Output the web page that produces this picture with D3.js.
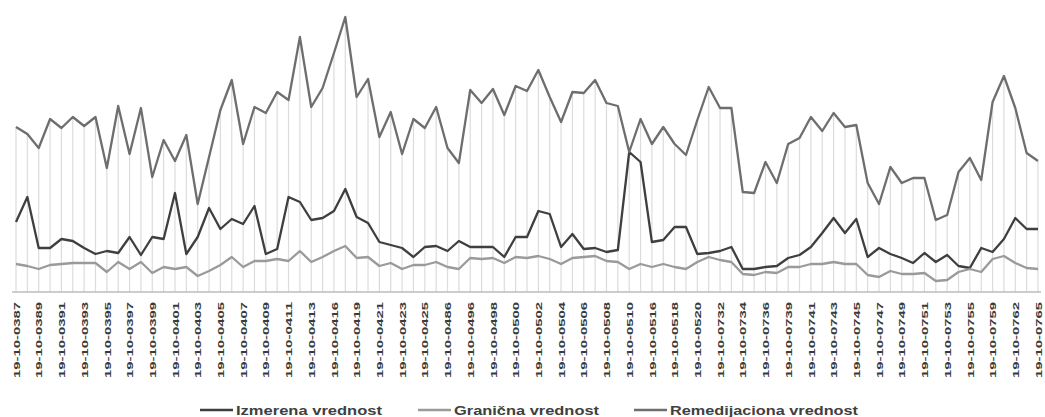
<!DOCTYPE html>
<html>
<head>
<meta charset="utf-8">
<script src="https://cdn.jsdelivr.net/npm/d3@7"></script>
<style>
  body { margin: 0; background: #fff; }
  svg { display: block; font-family: "Liberation Sans", Arial, sans-serif; }
</style>
</head>
<body>
<svg width="1045" height="417"></svg>
<script>
// Sample codes (every other one is shown on the axis)
var codes = ["0387","0388","0389","0390","0391","0392","0393","0394","0395","0396",
  "0397","0398","0399","0400","0401","0402","0403","0404","0405","0406",
  "0407","0408","0409","0410","0411","0412","0413","0414","0416","0417",
  "0419","0420","0421","0422","0423","0424","0425","0485","0486","0490",
  "0496","0497","0498","0499","0500","0501","0502","0503","0504","0505",
  "0506","0507","0508","0509","0510","0512","0516","0517","0518","0519",
  "0520","0731","0732","0733","0734","0735","0736","0737","0739","0740",
  "0741","0742","0743","0744","0745","0746","0747","0748","0749","0750",
  "0751","0752","0753","0754","0755","0757","0759","0760","0762","0763","0765"];
var categories = codes.map(function(c) { return "19-10-" + c; });

var izmerena = [70,95,44,44,53,51,44,38,41,39,
  55,37,55,53,99,38,55,84,63,73,
  68,86,38,43,95,90,72,74,81,103,
  75,69,50,47,44,35,45,46,41,51,
  45,45,45,35,55,55,81,78,45,58,
  43,44,40,42,140,130,50,52,65,65,
  38,39,41,45,23,23,25,26,34,37,
  45,59,74,59,73,35,44,38,34,29,
  39,30,37,26,24,44,40,53,74,63,63];

var granicna = [28,26,23,27,28,29,29,29,20,30,
  23,30,19,25,23,25,16,21,27,35,
  25,31,31,33,31,41,30,35,41,46,
  34,35,26,29,23,27,27,30,25,23,
  34,33,34,29,35,34,36,33,28,34,
  35,36,31,30,23,28,25,28,25,23,
  30,35,32,30,18,17,20,19,25,25,
  28,28,30,28,28,17,15,21,18,18,
  19,11,12,20,23,20,33,36,29,24,23];

var remedijaciona = [165,158,144,173,164,175,166,175,124,186,
  138,184,115,152,131,157,88,135,182,212,
  148,185,179,200,192,255,185,204,239,275,
  195,213,155,180,138,173,164,185,144,129,
  202,189,203,177,206,201,222,195,170,200,
  199,212,189,186,140,173,148,165,148,137,
  172,205,184,184,100,99,130,109,148,154,
  175,161,179,165,167,109,88,125,109,114,
  114,72,77,120,134,112,190,216,184,139,131];

var seriesNames = ["Izmerena vrednost", "Granična vrednost", "Remedijaciona vrednost"];
var seriesColors = ["#3f3f3f", "#9a9a9a", "#6e6e6e"];

var svg = d3.select("svg"),
	width = +svg.attr("width"),
	height = +svg.attr("height");

var x = d3.scalePoint()
	.domain(categories)
	.range([16, 1038]);

var y = d3.scaleLinear()
	.domain([0, 280])
	.range([292, 12]);

var series = [
	{ name: seriesNames[0], values: izmerena, color: seriesColors[0] },
	{ name: seriesNames[1], values: granicna, color: seriesColors[1] },
	{ name: seriesNames[2], values: remedijaciona, color: seriesColors[2] }
];

// Drop lines from the highest point down to the axis
svg.append("g")
	.selectAll("line")
	.data(categories)
	.enter()
	.append("line")
		.attr("x1", function(d) { return x(d); })
		.attr("x2", function(d) { return x(d); })
		.attr("y1", function(d, i) {
			return y(Math.max(izmerena[i], granicna[i], remedijaciona[i]));
		})
		.attr("y2", y(0))
		.style("stroke", "#dcdcdc")
		.style("stroke-width", 1.2);

// Category axis
var axis = svg.append("g")
	.attr("transform", "translate(0," + y(0) + ")")
	.call(d3.axisBottom(x).tickSize(0).tickFormat(function(d, i) { return i % 2 === 0 ? d : ""; }));

axis.select(".domain")
	.attr("d", "M12,0H1041")
	.style("stroke", "#bdbdbd")
	.style("stroke-width", 1.5);

axis.selectAll(".tick text")
	.filter(function(d, i) { return i % 2 === 0; })
	.attr("transform", "rotate(-90)")
	.attr("x", -10)
	.attr("y", 0)
	.attr("dy", "0.35em")
	.attr("text-anchor", "end")
	.attr("textLength", 76)
	.attr("lengthAdjust", "spacingAndGlyphs")
	.style("font-size", "9px")
	.style("font-weight", "bold")
	.style("fill", "#3a3a3a");

// Lines
var line = d3.line()
	.x(function(d, i) { return x(categories[i]); })
	.y(function(d) { return y(d); });

svg.append("g")
	.selectAll("path")
	.data(series)
	.enter()
	.append("path")
		.attr("d", function(d) { return line(d.values); })
		.style("fill", "none")
		.style("stroke", function(d) { return d.color; })
		.style("stroke-width", 2.3)
		.style("stroke-linejoin", "round");

// Legend
var legendX = [200, 418, 634];
var legendW = [146, 145, 188];
var legend = svg.append("g")
	.selectAll("g")
	.data(series)
	.enter()
	.append("g")
		.attr("transform", function(d, i) { return "translate(" + legendX[i] + ",410)"; });

legend.append("line")
	.attr("x1", 0)
	.attr("x2", 33)
	.style("stroke", function(d) { return d.color; })
	.style("stroke-width", 2.3);

legend.append("text")
	.attr("x", 36)
	.attr("dy", "0.35em")
	.attr("textLength", function(d, i) { return legendW[i]; })
	.attr("lengthAdjust", "spacingAndGlyphs")
	.style("font-size", "13px")
	.style("font-weight", "bold")
	.style("fill", "#404040")
	.text(function(d) { return d.name; });
</script>
</body>
</html>
